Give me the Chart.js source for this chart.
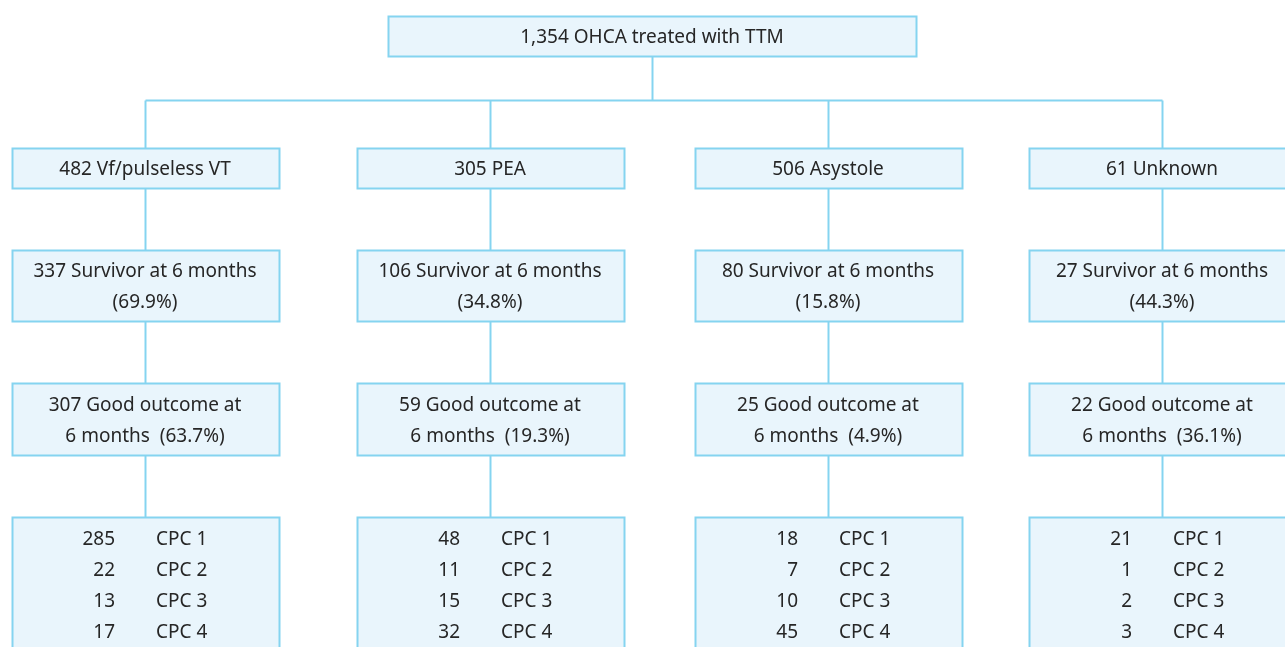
<!DOCTYPE html>
<html>
<head>
<meta charset="utf-8">
<script src="https://cdn.jsdelivr.net/npm/chart.js@4"></script>
<style>
  html, body { margin: 0; padding: 0; background: #fff; }
  #wrap { width: 1285px; height: 647px; }
</style>
</head>
<body>
<div id="wrap"><canvas id="flow" width="1285" height="647"></canvas></div>
<script>
// Data
const totalTreated = 1354;
const rhythms = ['Vf/pulseless VT', 'PEA', 'Asystole', 'Unknown'];
const rhythmCounts = [482, 305, 506, 61];
const survivors = [337, 106, 80, 27];
const goodOutcome = [307, 59, 25, 22];
const cpcLabels = ['CPC 1', 'CPC 2', 'CPC 3', 'CPC 4'];
const cpc1 = [285, 48, 18, 21];
const cpc2 = [22, 11, 7, 1];
const cpc3 = [13, 15, 10, 2];
const cpc4 = [17, 32, 45, 3];

// layout (in axis units = pixels of the 1285x647 picture)
const colCenters = [145, 490, 828, 1162];
const boxW = 267;
const topBox = { cx: 652, w: 528, y0: 16, y1: 56 };
const levels = [
    { y0: 148, y1: 188 },
    { y0: 250, y1: 321 },
    { y0: 383, y1: 455 },
    { y0: 517, y1: 660 }
];
const branchY = 100;
const textShift = 2; // Noto Sans sits a bit high with 'middle'

const fillCol = '#e9f5fc';
const lineCol = '#85d4f0';
const textCol = '#262626';
const font = '19px "Noto Sans", "Open Sans", sans-serif';

const pct = (a, b) => (a / b * 100).toFixed(1) + '%';

const flowPlugin = {
    id: 'flow',
    afterDraw(chart) {
        const ctx = chart.ctx;
        const xs = chart.scales.x, ys = chart.scales.y;
        const X = v => xs.getPixelForValue(v);
        const Y = v => ys.getPixelForValue(v);

        function line(x0, y0, x1, y1) {
            ctx.beginPath();
            ctx.moveTo(Math.round(X(x0)) + 0.5, Math.round(Y(y0)) + 0.5);
            ctx.lineTo(Math.round(X(x1)) + 0.5, Math.round(Y(y1)) + 0.5);
            ctx.stroke();
        }
        function box(cx, w, y0, y1) {
            const l = Math.round(X(cx - w / 2)) + 0.5, r = Math.round(X(cx + w / 2)) + 0.5;
            const t = Math.round(Y(y0)) + 0.5, b = Math.round(Y(y1)) + 0.5;
            ctx.fillStyle = fillCol;
            ctx.fillRect(l, t, r - l, b - t);
            ctx.strokeRect(l, t, r - l, b - t);
        }
        function text(s, x, y, align) {
            ctx.textAlign = align || 'center';
            ctx.fillText(s, X(x), Y(y + textShift));
        }

        ctx.save();
        ctx.strokeStyle = lineCol;
        ctx.lineWidth = 2;

        // connectors
        line(topBox.cx, topBox.y1, topBox.cx, branchY);
        line(colCenters[0], branchY, colCenters[3], branchY);
        colCenters.forEach(cx => {
            line(cx, branchY, cx, levels[0].y0);
            for (let i = 0; i < 3; i++) line(cx, levels[i].y1, cx, levels[i + 1].y0);
        });

        // boxes
        box(topBox.cx, topBox.w, topBox.y0, topBox.y1);
        colCenters.forEach(cx => levels.forEach(l => box(cx, boxW, l.y0, l.y1)));

        // labels
        ctx.fillStyle = textCol;
        ctx.font = font;
        ctx.textBaseline = 'middle';
        text(totalTreated.toLocaleString('en-US') + ' OHCA treated with TTM', topBox.cx, 36);
        colCenters.forEach((cx, i) => {
            text(rhythmCounts[i] + ' ' + rhythms[i], cx, 168);
            text(survivors[i] + ' Survivor at 6 months', cx, 270);
            text('(' + pct(survivors[i], rhythmCounts[i]) + ')', cx, 301);
            text(goodOutcome[i] + ' Good outcome at', cx, 404);
            text('6 months  (' + pct(goodOutcome[i], rhythmCounts[i]) + ')', cx, 435);
            [cpc1, cpc2, cpc3, cpc4].forEach((arr, k) => {
                const y = 538 + k * 31;
                text(String(arr[i]), cx - 30, y, 'right');
                text(cpcLabels[k], cx + 11, y, 'left');
            });
        });
        ctx.restore();
    }
};

const ctx = document.getElementById('flow').getContext('2d');
const flowChart = new Chart(ctx, {
    type: 'scatter',
    data: {
        datasets: [{
            label: 'nodes',
            data: colCenters.map(cx => ({ x: cx, y: levels[0].y0 })),
            pointRadius: 0
        }]
    },
    options: {
        responsive: false,
        animation: false,
        devicePixelRatio: 1,
        layout: { padding: 0 },
        events: [],
        scales: {
            x: { type: 'linear', min: 0, max: 1285, display: false },
            y: { type: 'linear', min: 0, max: 647, reverse: true, display: false }
        },
        plugins: {
            legend: { display: false },
            tooltip: { enabled: false }
        }
    },
    plugins: [flowPlugin]
});
</script>
</body>
</html>
